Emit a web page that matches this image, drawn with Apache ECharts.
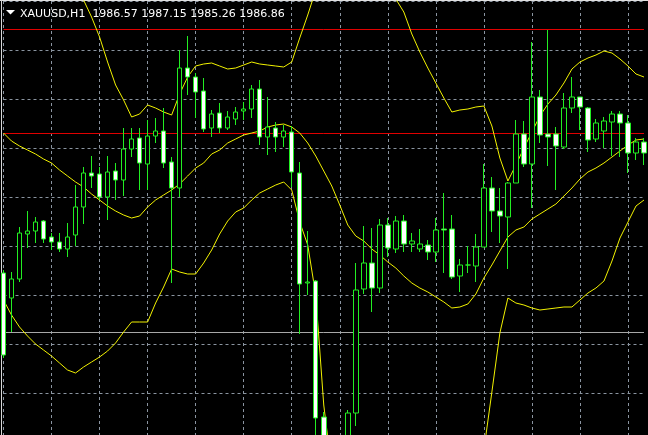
<!DOCTYPE html>
<html>
<head>
<meta charset="utf-8">
<script src="https://cdn.jsdelivr.net/npm/echarts@6/dist/echarts.min.js"></script>
<style>
  html, body { margin: 0; padding: 0; background: #000; }
  #chart { width: 648px; height: 435px; }
</style>
</head>
<body>
<div id="chart"></div>
<script>
// XAUUSD H1 (one entry per bar, left to right)
var opens = [
  1974.7, 1972.2, 1974.1, 1978.6, 1978.9, 1979.9, 1978.3, 1977.8, 1977.1, 1978.5,
  1981.3, 1984.7, 1984.6, 1982.3, 1984.9, 1984.0, 1987.1, 1988.2, 1985.6, 1988.4,
  1988.9, 1985.8, 1983.2, 1995.2, 1994.3, 1992.9, 1989.2, 1990.7, 1989.2, 1990.1,
  1990.9, 1991.1, 1993.1, 1988.3, 1989.2, 1988.3, 1988.8, 1984.7, 1973.7, 1973.9,
  1960.3, 1956.5, 1955.0, 1955.8, 1960.7, 1973.1, 1975.7, 1973.2, 1979.5, 1977.1,
  1979.9, 1977.6, 1977.1, 1977.5, 1976.8, 1979.1, 1979.1, 1974.4, 1975.5, 1975.4,
  1977.3, 1983.2, 1980.9, 1980.3, 1983.7, 1988.6, 1985.6, 1992.3, 1988.6, 1988.6,
  1987.3, 1991.2, 1992.3, 1991.2, 1988.1, 1988.9, 1989.8, 1990.6, 1989.7, 1986.7,
  1987.8
];
var closes = [
  1966.5, 1974.1, 1978.7, 1978.9, 1979.8, 1978.1, 1977.8, 1977.1, 1978.3, 1981.3,
  1984.7, 1984.4, 1982.3, 1984.8, 1984.0, 1987.1, 1988.1, 1985.7, 1988.4, 1988.9,
  1985.7, 1983.2, 1995.2, 1994.3, 1992.8, 1989.1, 1990.6, 1989.2, 1990.3, 1990.8,
  1991.1, 1993.1, 1988.3, 1989.3, 1988.3, 1988.9, 1984.8, 1973.6, 1973.8, 1960.2,
  1956.5, 1955.0, 1955.8, 1960.7, 1973.0, 1975.7, 1973.2, 1979.5, 1977.2, 1979.9,
  1977.6, 1977.9, 1977.6, 1976.8, 1979.0, 1979.0, 1974.3, 1975.5, 1975.5, 1977.3,
  1983.2, 1980.9, 1980.4, 1983.7, 1988.6, 1985.6, 1992.3, 1988.5, 1988.3, 1987.4,
  1991.2, 1992.3, 1991.3, 1988.0, 1989.7, 1989.9, 1990.6, 1989.7, 1986.7, 1987.8,
  1986.7
];
var lows = [
  1966.2, 1968.8, 1973.8, 1977.2, 1977.7, 1977.7, 1977.0, 1976.8, 1976.3, 1977.4,
  1979.6, 1983.2, 1982.0, 1980.0, 1982.0, 1982.4, 1986.3, 1983.0, 1983.0, 1987.7,
  1985.2, 1973.7, 1982.3, 1992.5, 1990.2, 1988.8, 1988.3, 1988.7, 1989.0, 1989.5,
  1990.0, 1990.2, 1987.5, 1986.5, 1986.8, 1987.3, 1983.3, 1968.6, 1972.5, 1958.0,
  1955.0, 1954.0, 1953.0, 1955.0, 1959.4, 1972.6, 1970.8, 1972.7, 1976.3, 1976.7,
  1976.8, 1976.8, 1976.8, 1976.0, 1975.8, 1974.7, 1974.1, 1972.8, 1974.7, 1973.8,
  1977.3, 1978.8, 1977.7, 1975.1, 1983.7, 1985.3, 1981.2, 1987.7, 1985.4, 1983.0,
  1987.1, 1990.7, 1989.0, 1986.8, 1987.8, 1987.2, 1986.4, 1986.3, 1984.7, 1986.0,
  1985.5
];
var highs = [
  1975.0, 1974.8, 1979.3, 1980.9, 1980.3, 1980.0, 1978.7, 1978.7, 1979.7, 1983.5,
  1985.3, 1986.4, 1985.3, 1986.4, 1985.7, 1989.2, 1989.2, 1989.2, 1990.0, 1990.2,
  1991.2, 1986.3, 1997.0, 1998.4, 1994.7, 1994.2, 1991.0, 1991.7, 1990.9, 1991.3,
  1991.8, 1993.5, 1994.0, 1992.3, 1989.8, 1989.5, 1989.4, 1985.8, 1978.9, 1974.0,
  1960.8, 1957.5, 1957.0, 1961.0, 1975.7, 1979.4, 1979.2, 1980.1, 1980.2, 1980.4,
  1980.5, 1978.7, 1979.1, 1978.0, 1980.2, 1982.7, 1980.5, 1976.1, 1977.4, 1978.6,
  1985.6, 1984.3, 1983.2, 1983.8, 1990.0, 1989.9, 1997.8, 1993.0, 1999.0, 1989.3,
  1992.7, 1994.3, 1992.3, 1991.3, 1990.1, 1990.3, 1990.9, 1990.9, 1990.5, 1988.2,
  1988.2
];

// Bollinger bands
var upperBand = [
  2005.4, 2005.3, 2005.5, 2005.6, 2005.6, 2005.2, 2005.0, 2004.3, 2003.8, 2003.2,
  2002.0, 2000.3, 1998.3, 1995.8, 1993.5, 1992.0, 1990.3, 1990.6, 1991.5, 1991.2,
  1990.8, 1990.5, 1992.6, 1994.3, 1995.4, 1995.6, 1995.7, 1995.4, 1995.1, 1995.2,
  1995.5, 1995.8, 1995.6, 1995.5, 1995.4, 1995.3, 1995.8, 1998.2, 2000.5, 2003.0,
  2006.0, 2008.5, 2010.5, 2011.5, 2011.0, 2009.5, 2007.5, 2005.8, 2003.8, 2002.1,
  2000.8, 1998.6, 1996.8, 1995.2, 1993.7, 1992.2, 1990.8, 1991.0, 1991.1, 1991.3,
  1991.4, 1989.4, 1986.2, 1983.9, 1985.5, 1987.2, 1988.8, 1990.4, 1991.6, 1992.5,
  1993.7, 1995.1, 1995.8, 1996.2, 1996.5, 1996.9, 1996.7, 1996.1, 1995.4, 1994.6,
  1994.3
];
var middleBand = [
  1988.7, 1987.9, 1987.4, 1987.0, 1986.6, 1986.1, 1985.7, 1985.0, 1984.4, 1983.8,
  1983.3, 1982.6, 1982.0, 1981.4, 1980.9, 1980.5, 1980.2, 1980.4, 1981.3, 1982.0,
  1982.5, 1983.0, 1983.6, 1984.4, 1985.2, 1985.7, 1986.6, 1987.0, 1987.7, 1988.1,
  1988.5, 1988.7, 1988.9, 1989.3, 1989.5, 1989.6, 1989.3, 1988.7, 1987.7, 1986.4,
  1984.9, 1983.4, 1981.5, 1979.5, 1978.4, 1977.9, 1977.1, 1976.5, 1975.8, 1975.2,
  1974.4, 1973.7, 1973.2, 1972.8, 1972.3, 1971.8, 1971.2, 1971.3, 1971.6, 1972.6,
  1974.2, 1975.5, 1976.9, 1978.3, 1979.0, 1979.3, 1980.1, 1980.6, 1981.1, 1981.6,
  1982.4, 1983.2, 1984.1, 1984.8, 1985.2, 1985.7, 1986.3, 1986.9, 1987.5, 1988.0,
  1988.1
];
var lowerBand = [
  1972.0, 1970.5, 1969.3, 1968.4, 1967.6, 1967.0, 1966.4, 1965.7, 1965.0, 1964.7,
  1965.3, 1965.8, 1966.3, 1966.9, 1967.7, 1968.8, 1969.8, 1969.8, 1969.8, 1971.7,
  1973.3, 1975.1, 1974.8, 1974.6, 1974.6, 1975.7, 1977.0, 1978.6, 1979.9, 1980.8,
  1981.2, 1982.0, 1982.7, 1983.1, 1983.5, 1983.8, 1983.0, 1979.8, 1977.5, 1972.5,
  1961.5, 1955.0, 1951.5, 1949.0, 1948.5, 1948.5, 1948.2, 1948.0, 1948.0, 1948.3,
  1948.0, 1948.8, 1949.6, 1950.4, 1950.9, 1951.4, 1951.6, 1951.6, 1952.1, 1953.9,
  1957.0, 1962.8, 1968.7, 1972.2, 1971.7, 1971.5, 1971.2, 1971.0, 1971.1, 1971.2,
  1971.3, 1971.3, 1972.0, 1972.7, 1973.2, 1973.9, 1975.9, 1978.2, 1979.8, 1981.4,
  1982.0
];

// horizontal levels drawn on the chart
var redLevels = [1999.05, 1988.65];
var grayLevels = [1968.75];

var symbol = 'XAUUSD,H1';
var lastBar = ['1986.57', '1987.15', '1985.26', '1986.86'];

var bars = opens.map(function (o, i) {
  return [o, closes[i], lows[i], highs[i]];
});
var categories = opens.map(function (o, i) { return i; });
var lastIndex = categories.length - 1;

var chart = echarts.init(document.getElementById('chart'));

var gridStyle = { color: '#8a94a0', width: 1, type: [3, 3] };

// a level is a flat two-point line across the whole chart
function levelSeries(level, color) {
  return {
    type: 'line',
    data: [[0, level], [lastIndex, level]],
    symbol: 'none',
    silent: true,
    z: 1,
    lineStyle: { color: color, width: 1, type: 'solid' }
  };
}

var levelSeriesList = redLevels.map(function (v) { return levelSeries(v, '#e00000'); })
  .concat(grayLevels.map(function (v) { return levelSeries(v, '#a8a8a8'); }));

chart.setOption({
  backgroundColor: '#000000',
  animation: false,
  title: {
    text: symbol + '  ' + lastBar.join(' '),
    left: 20,
    top: 9,
    padding: 0,
    textStyle: {
      color: '#ffffff',
      fontSize: 11,
      fontWeight: 'normal',
      fontFamily: 'DejaVu Sans'
    }
  },
  grid: { left: 3.5, top: 1, width: 640.5, height: 441, outerBoundsMode: 'none', containLabel: false },
  xAxis: [{
    type: 'category',
    data: categories,
    boundaryGap: false,
    axisLine: { show: false },
    axisTick: { show: false },
    axisLabel: { show: false },
    splitLine: {
      show: true,
      interval: function (i) { return i % 6 === 0; },
      lineStyle: gridStyle
    }
  }],
  yAxis: [{
    type: 'value',
    min: 1957.8,
    max: 2001.9,
    axisLine: { show: false },
    axisTick: { show: false },
    axisLabel: { show: false },
    splitLine: { show: false }
  }, {
    type: 'value',
    min: 0,
    max: 9,
    interval: 1,
    axisLine: { show: false },
    axisTick: { show: false },
    axisLabel: { show: false },
    splitLine: { show: true, lineStyle: gridStyle }
  }],
  series: levelSeriesList.concat([
    {
      type: 'candlestick',
      data: bars,
      barWidth: 5,
      clip: false,
      z: 3,
      itemStyle: {
        color: '#000000',
        color0: '#ffffff',
        borderColor: '#22ee22',
        borderColor0: '#22ee22',
        borderWidth: 1
      }
    }, {
      type: 'line',
      data: upperBand,
      symbol: 'none',
      z: 2,
      lineStyle: { color: '#f2f200', width: 1 }
    }, {
      type: 'line',
      data: middleBand,
      symbol: 'none',
      z: 2,
      lineStyle: { color: '#f2f200', width: 1 }
    }, {
      type: 'line',
      data: lowerBand,
      symbol: 'none',
      z: 2,
      lineStyle: { color: '#f2f200', width: 1 }
    }
  ]),
  graphic: [
    { type: 'line', shape: { x1: 0, y1: 0.5, x2: 648, y2: 0.5 }, style: { stroke: '#e0e0e0', lineWidth: 1 } },
    { type: 'line', shape: { x1: 1.5, y1: 0, x2: 1.5, y2: 435 }, style: { stroke: '#d8d8d8', lineWidth: 1 } },
    { type: 'polygon', shape: { points: [[6, 10], [15, 10], [10.5, 14.5]] }, style: { fill: '#ffffff' } }
  ]
});
</script>
</body>
</html>
